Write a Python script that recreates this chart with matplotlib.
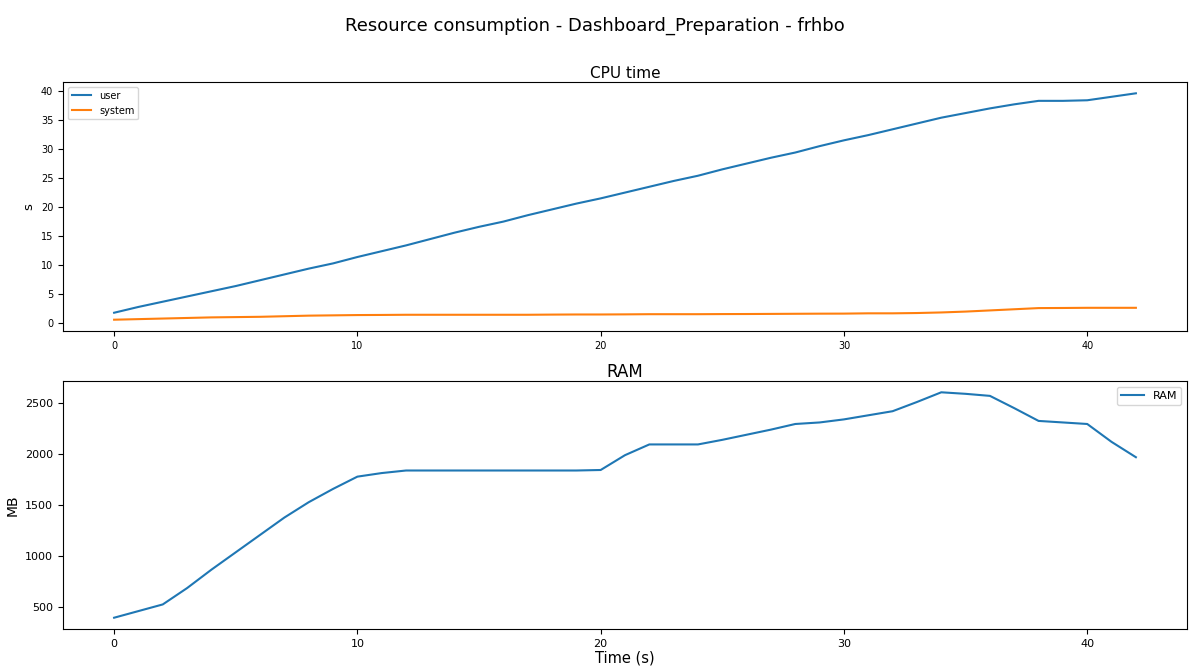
import matplotlib
matplotlib.use("Agg")
import matplotlib.pyplot as plt

# sample times (s)
t = list(range(0, 43))

cpu_user = [1.8, 2.8, 3.7, 4.6, 5.5, 6.4, 7.4, 8.4, 9.4, 10.3,
            11.4, 12.4, 13.4, 14.5, 15.6, 16.6, 17.5, 18.6, 19.6, 20.6,
            21.5, 22.5, 23.5, 24.5, 25.4, 26.5, 27.5, 28.5, 29.4, 30.5,
            31.5, 32.4, 33.4, 34.4, 35.4, 36.2, 37.0, 37.7, 38.3, 38.3,
            38.4, 39.0, 39.6]

cpu_system = [0.6, 0.7, 0.8, 0.9, 1.0, 1.05, 1.1, 1.2, 1.3, 1.35,
              1.4, 1.42, 1.45, 1.45, 1.45, 1.45, 1.45, 1.45, 1.48, 1.5,
              1.5, 1.52, 1.55, 1.55, 1.55, 1.57, 1.58, 1.6, 1.62, 1.64,
              1.65, 1.7, 1.7, 1.75, 1.85, 2.0, 2.2, 2.4, 2.6, 2.62,
              2.65, 2.65, 2.65]

ram = [400, 465, 530, 690, 870, 1040, 1210, 1380, 1530, 1660,
       1780, 1815, 1840, 1840, 1840, 1840, 1840, 1840, 1840, 1840,
       1845, 1990, 2095, 2095, 2095, 2140, 2190, 2240, 2295, 2310,
       2340, 2380, 2420, 2510, 2605, 2590, 2570, 2450, 2325, 2310,
       2295, 2120, 1970]

fig = plt.figure(figsize=(11.89, 6.72), dpi=100)
fig.suptitle("Resource consumption - Dashboard_Preparation - frhbo",
             fontsize=13, y=0.975)

ax1 = fig.add_axes([0.053, 0.5074, 0.9453, 0.3706])
ax1.plot(t, cpu_user, label="user")
ax1.plot(t, cpu_system, label="system")
ax1.set_title("CPU time", fontsize=11, pad=3)
ax1.set_ylabel("s", fontsize=9.5)
ax1.tick_params(labelsize=7)
ax1.legend(loc="upper left", fontsize=7)

ax2 = fig.add_axes([0.053, 0.064, 0.9453, 0.369])
ax2.plot(t, ram, label="RAM")
ax2.set_title("RAM", fontsize=12, pad=2)
ax2.set_ylabel("MB", fontsize=10)
ax2.set_xlabel("Time (s)", fontsize=10.5, labelpad=1)
ax2.tick_params(labelsize=8)
ax2.legend(loc="upper right", fontsize=8)

fig.savefig("out.png", dpi=100)
